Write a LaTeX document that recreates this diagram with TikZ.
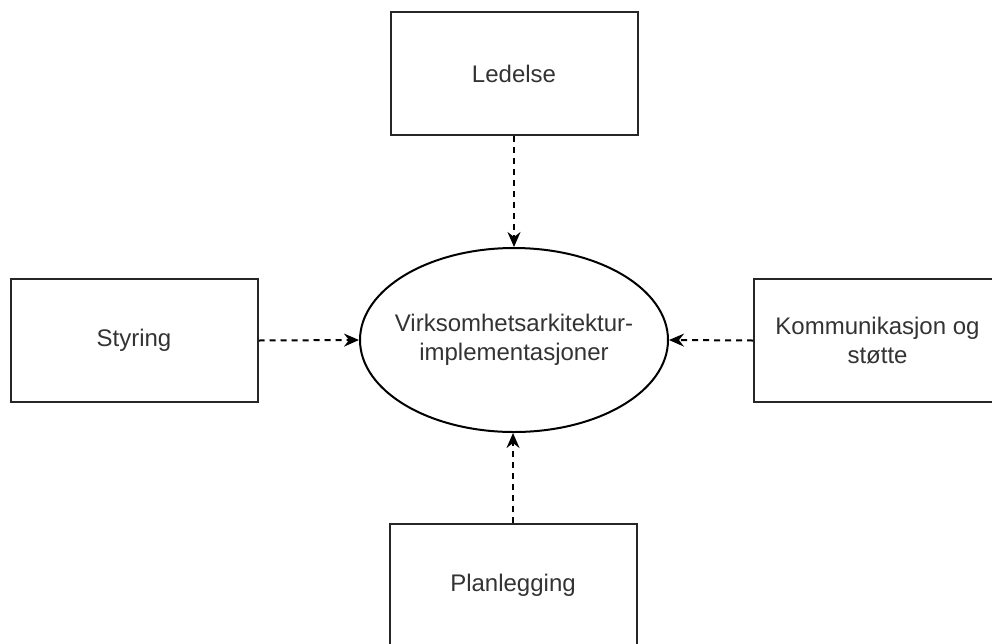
\documentclass[tikz,border=0pt]{standalone}
\usepackage{fontspec}
\setmainfont{Liberation Sans}
\usetikzlibrary{arrows.meta,shapes.geometric}
\definecolor{txt}{HTML}{333333}
\tikzset{
  box/.style={draw=black!85, line width=2pt, minimum width=247pt, minimum height=123pt,
    inner sep=0pt, align=center, text=txt, font=\fontsize{24}{29}\selectfont},
  hub/.style={ellipse, draw=black, line width=2pt, minimum width=308pt, minimum height=184pt,
    inner sep=0pt},
  label text/.style={inner sep=0pt, align=center, text=txt, font=\fontsize{24}{29}\selectfont},
  flow/.style={draw=black, line width=2pt, dash pattern=on 6pt off 5pt,
    -{Stealth[length=15pt,width=13pt,inset=5pt]}}
}
\begin{document}
\begin{tikzpicture}[x=1pt,y=-1pt]
  \useasboundingbox (0,0) rectangle (992,643);
  \node[hub] (ea) at (514,340) {};
  \node[label text] (eatext) at (ea.center) {Virksomhetsarkitektur-\\implementasjoner};
  \node[box] (led) at (514,73.5) {Ledelse};
  \node[box] (sty) at (134,340.5) {Styring};
  \node[box] (kom) at (877.5,340.5) {Kommunikasjon og\\støtte};
  \node[box] (pla) at (513,585.5) {Planlegging};
  \draw[flow] (led.south) -- (ea.north);
  \draw[flow] (sty.east) -- (ea.west);
  \draw[flow] (kom.west) -- (ea.east);
  \draw[flow] (pla.north) -- (pla.north |- ea.south);
\end{tikzpicture}
\end{document}
